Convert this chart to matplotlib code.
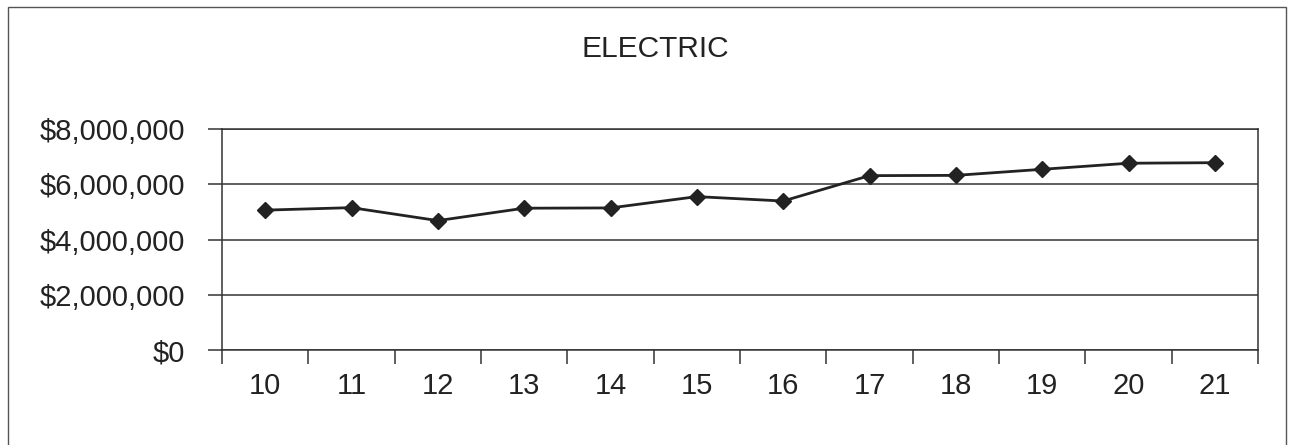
import matplotlib
matplotlib.use("Agg")
import matplotlib.pyplot as plt
from matplotlib.patches import Rectangle
from matplotlib.ticker import FuncFormatter

categories = ["10", "11", "12", "13", "14", "15", "16", "17", "18", "19", "20", "21"]
values = [5070000, 5160000, 4690000, 5140000, 5150000, 5560000, 5400000,
          6320000, 6330000, 6550000, 6770000, 6790000]
yticks = [0, 2000000, 4000000, 6000000, 8000000]
title = "ELECTRIC"

plt.rcParams['font.family'] = ['Liberation Sans', 'DejaVu Sans']

W, H = 1293, 445
fig = plt.figure(figsize=(W / 100, H / 100), dpi=100)
fig.patch.set_facecolor("white")

# outer frame
fig.patches.append(Rectangle((8 / W, -0.02), (1286 - 8) / W, 1 - 7 / H + 0.02,
                             transform=fig.transFigure, fill=False,
                             edgecolor="#555555", linewidth=1.0))

ax = fig.add_axes([222 / W, 1 - 350 / H, (1258 - 222) / W, (350 - 129.3) / H])
x = list(range(len(categories)))
ax.plot(x, values, color="#222222", linewidth=2.0, marker="D", markersize=8.5,
        markerfacecolor="#222222", markeredgecolor="#222222", zorder=3)

ax.set_xlim(-0.5, len(categories) - 0.5)
ax.set_ylim(0, 8000000)
ax.set_yticks(yticks)
ax.yaxis.set_major_formatter(FuncFormatter(lambda v, p: "${:,.0f}".format(v)))
ax.grid(axis="y", color="#333333", linewidth=1.1)
ax.set_axisbelow(True)

ax.set_xticks([i - 0.5 for i in range(len(categories) + 1)])
ax.set_xticklabels([])
ax.set_xticks(x, minor=True)
ax.set_xticklabels(categories, minor=True)
ax.tick_params(axis="x", which="major", direction="out", length=10, width=1.1, color="#333333")
ax.tick_params(axis="x", which="minor", length=0, pad=16, labelsize=21, labelcolor="#222222")
ax.tick_params(axis="y", direction="out", length=10, width=1.1, color="#333333",
               pad=16.5, labelsize=21, labelcolor="#222222")

for s in ax.spines.values():
    s.set_color("#333333")
    s.set_linewidth(1.1)

fig.text(655 / W, 1 - 49 / H, title, ha="center", va="center", fontsize=21.5, color="#222222")

fig.savefig("out.png", dpi=100, facecolor="white")
